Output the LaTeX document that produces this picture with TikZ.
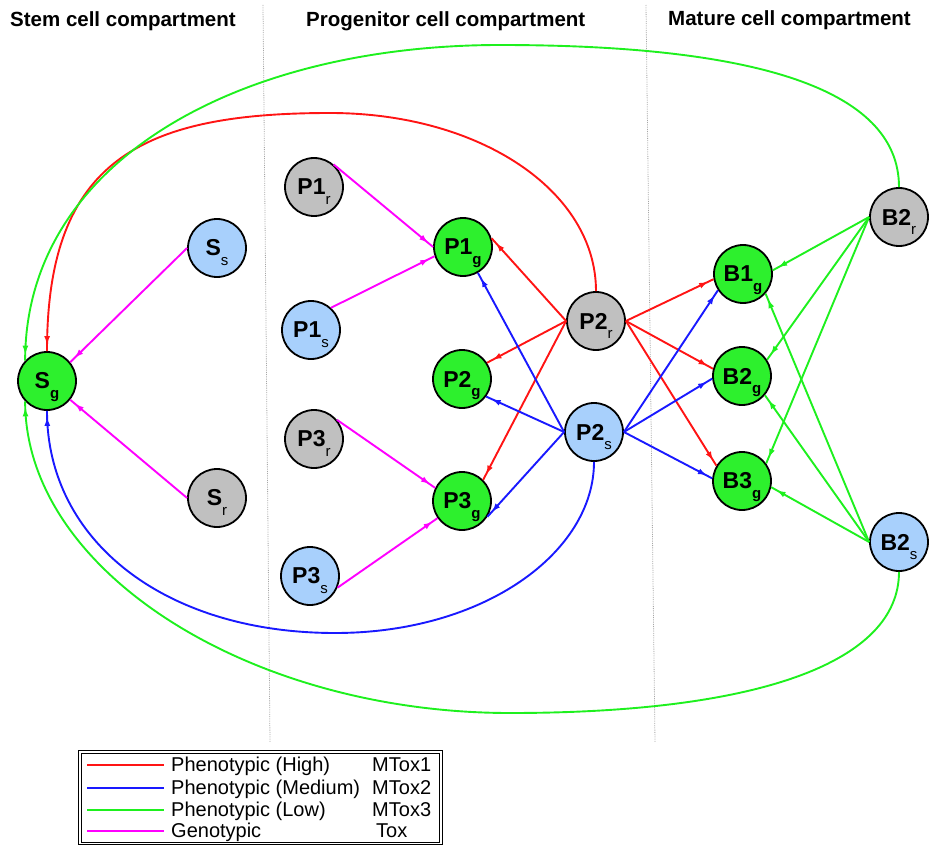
\documentclass[tikz,border=0pt]{standalone}
\usepackage{fontspec}
\setmainfont{Liberation Sans}
\usetikzlibrary{arrows.meta,decorations.markings}
\definecolor{cellgreen}{RGB}{45,240,45}
\definecolor{cellgray}{RGB}{192,192,192}
\definecolor{cellblue}{RGB}{168,208,252}
\definecolor{linkred}{RGB}{255,20,20}
\definecolor{linkblue}{RGB}{25,25,255}
\definecolor{linkgreen}{RGB}{30,240,30}
\definecolor{linkpink}{RGB}{255,0,255}
\newcommand{\lowsub}[1]{\raisebox{-0.4em}[0pt][0pt]{\fontsize{15}{15}\selectfont #1}}
\tikzset{
  cell/.style={circle,draw=black,line width=1.8pt,minimum size=58pt,inner sep=0pt,
    font=\fontsize{23}{23}\selectfont\bfseries},
  gcell/.style={cell,fill=cellgreen},
  rcell/.style={cell,fill=cellgray},
  scell/.style={cell,fill=cellblue},
  link/.style={line width=1.9pt,postaction={decorate},
    decoration={markings,mark=at position -6pt with {\arrow{Latex[length=9pt,width=6pt]}}}},
  header/.style={inner sep=0pt,anchor=base west,font=\fontsize{20.5}{20.5}\selectfont\bfseries},
  legendtext/.style={inner sep=0pt,anchor=base west,font=\fontsize{20}{20}\selectfont},
  divider/.style={densely dotted,gray!70,line width=0.8pt}
}
\begin{document}
\begin{tikzpicture}[x=1pt,y=-1pt]
\useasboundingbox (0,0) rectangle (929,845);
% compartments
\draw[divider] (263,5) -- (270,742);
\draw[divider] (646,5) -- (655,742);
\node[header] (hstem) at (10,27) {Stem cell compartment};
\node[header] (hprog) at (306,27) {Progenitor cell compartment};
\node[header] (hmat) at (668,26) {Mature cell compartment};
% stem cells
\node[gcell] (Sg) at (47,381) {S\lowsub{g}};
\node[scell] (Ss) at (217,248) {S\lowsub{\mdseries s}};
\node[rcell] (Sr) at (217,498) {S\lowsub{\mdseries r}};
% progenitor cells
\node[rcell] (P1r) at (314,187) {P1\lowsub{\mdseries r}};
\node[scell] (P1s) at (311,330) {P1\lowsub{\mdseries s}};
\node[rcell] (P3r) at (314,439) {P3\lowsub{\mdseries r}};
\node[scell] (P3s) at (310,576) {P3\lowsub{\mdseries s}};
\node[gcell] (P1g) at (463,247) {P1\lowsub{g}};
\node[gcell] (P2g) at (462,379) {P2\lowsub{g}};
\node[gcell] (P3g) at (462,501) {P3\lowsub{g}};
\node[rcell] (P2r) at (596,321) {P2\lowsub{\mdseries r}};
\node[scell] (P2s) at (594,432) {P2\lowsub{\mdseries s}};
% mature cells
\node[gcell] (B1g) at (743,274) {B1\lowsub{g}};
\node[gcell] (B2g) at (742,376) {B2\lowsub{g}};
\node[gcell] (B3g) at (742,481) {B3\lowsub{g}};
\node[rcell] (B2r) at (899,217) {B2\lowsub{\mdseries r}};
\node[scell] (B2s) at (899,542) {B2\lowsub{\mdseries s}};
% genotypic
\foreach \a/\b in {Ss.180/Sg.39,Sr.180/Sg.-39,P1r.49/P1g.180,P1s.48/P1g.198,P3r.40/P3g.154,P3s.-23/P3g.215}
  \draw[linkpink,link] (\a) -- (\b);
% phenotypic high
\foreach \b in {P1g.17,P2g.33,P3g.45}
  \draw[linkred,link] (P2r.180) -- (\b);
\foreach \b in {B1g.190,B2g.166,B3g.149}
  \draw[linkred,link] (P2r.0) -- (\b);
\coordinate (redtop) at (330,113);
\draw[linkred,link] (P2r.north) .. controls +(0,-100) and +(150,0) .. (redtop)
  .. controls +(-190,0) and +(0,-190) .. (Sg.north);
% phenotypic medium
\foreach \b in {P1g.-60,P2g.-36,P3g.-32}
  \draw[linkblue,link] (P2s.180) -- (\b);
\foreach \b in {B1g.213,B2g.185,B3g.175}
  \draw[linkblue,link] (P2s.0) -- (\b);
\coordinate (bluelow) at (335,633);
\draw[linkblue,link] (P2s.south) .. controls +(0,90) and +(150,0) .. (bluelow)
  .. controls +(-170,0) and +(0,130) .. (Sg.south);
% phenotypic low
\foreach \b in {B1g.7,B2g.33,B3g.36}
  \draw[linkgreen,link] (B2r.180) -- (\b);
\foreach \b in {B1g.-41,B2g.-40,B3g.-12}
  \draw[linkgreen,link] (B2s.180) -- (\b);
\coordinate (greentop) at (500,45);
\draw[linkgreen,link] (B2r.north) .. controls +(0,-100) and +(250,0) .. (greentop)
  .. controls +(-260,0) and +(0,-200) .. (Sg.137);
\coordinate (greenlow) at (510,713);
\draw[linkgreen,link] (B2s.south) .. controls +(0,90) and +(250,0) .. (greenlow)
  .. controls +(-260,0) and +(0,170) .. (Sg.223);
% legend
\draw[line width=1.1pt,double,double distance=1.2pt] (80,752) rectangle (441,843.5);
\foreach \y/\c/\t/\m/\x in {765/linkred/Phenotypic (High)/MTox1/372,
    788/linkblue/Phenotypic (Medium)/MTox2/372,
    810/linkgreen/Phenotypic (Low)/MTox3/372,
    831/linkpink/Genotypic/Tox/376}{
  \draw[\c,line width=1.9pt] (87,\y) -- (164,\y);
  \node[legendtext] (lt\y) at (171,\y+6.5) {\t};
  \node[legendtext] (lm\y) at (\x,\y+6.5) {\m};}
\end{tikzpicture}
\end{document}
